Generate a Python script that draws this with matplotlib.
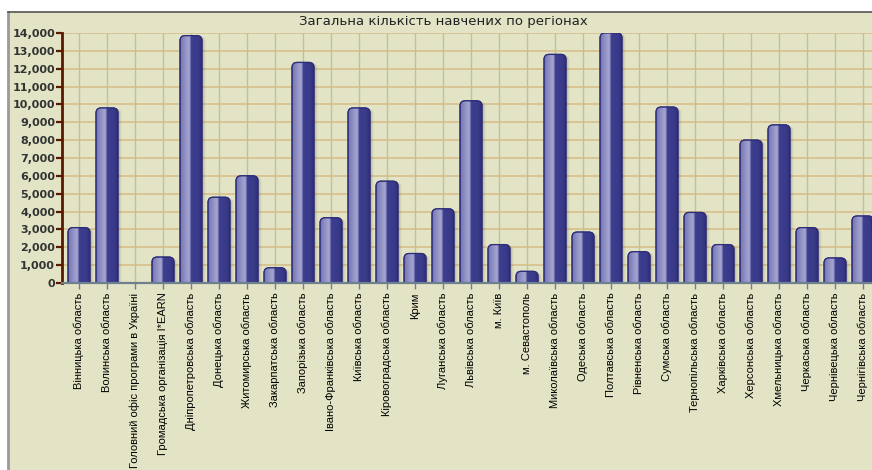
import matplotlib
matplotlib.use("Agg")
import matplotlib.pyplot as plt
import numpy as np
from matplotlib.patches import FancyBboxPatch, Rectangle
from matplotlib.colors import LinearSegmentedColormap

title = "Загальна кількість навчених по регіонах"
categories = [
    "Вінницька область", "Волинська область", "Головний офіс програми в Україні",
    "Громадська організація I*EARN", "Дніпропетровська область", "Донецька область",
    "Житомирська область", "Закарпатська область", "Запорізька область",
    "Івано-Франківська область", "Київська область", "Кіровоградська область",
    "Крим", "Луганська область", "Львівська область", "м. Київ",
    "м. Севастополь", "Миколаївська область", "Одеська область",
    "Полтавська область", "Рівненська область", "Сумська область",
    "Тернопільська область", "Харківська область", "Херсонська область",
    "Хмельницька область", "Черкаська область", "Чернівецька область",
    "Чернігівська область",
]
values = [3100, 9800, 0, 1450, 13850, 4800, 6000, 850, 12350, 3650, 9800, 5700,
          1650, 4150, 10200, 2150, 650, 12800, 2850, 14000, 1750, 9850, 3950,
          2150, 8000, 8850, 3100, 1400, 3750]
yticks = list(range(0, 14001, 1000))

W, H = 872, 470
fig = plt.figure(figsize=(W / 100, H / 100), dpi=100)
fig.patch.set_facecolor("white")

# panel background with borders
bg = Rectangle((8 / W, 0), 1 - 8 / W, 1 - 12 / H, transform=fig.transFigure,
               facecolor="#e3e3c5", edgecolor="none", zorder=-10)
fig.add_artist(bg)
fig.add_artist(plt.Line2D([8 / W, 8 / W], [0, 1 - 12 / H], transform=fig.transFigure,
                          color="#9a9a9a", lw=2.0, zorder=-9))
fig.add_artist(plt.Line2D([8 / W, 1], [1 - 12 / H, 1 - 12 / H], transform=fig.transFigure,
                          color="#555555", lw=1.2, zorder=-9))

ax_left, ax_right = 62 / W, 1.0
ax_bottom, ax_top = 1 - 283 / H, 1 - 33 / H
ax = fig.add_axes([ax_left, ax_bottom, ax_right - ax_left, ax_top - ax_bottom])
ax.set_facecolor("none")
ax.set_zorder(1)

x = np.arange(len(categories))
x0 = -(79 - 62) / 28
x1 = (872 - 79) / 28
ax.set_xlim(x0, x1)
ax.set_ylim(0, 14000)

# grid
for yv in yticks[1:]:
    ax.axhline(yv, color="#d5bb86", lw=1.1, zorder=1)
for xv in x:
    ax.axvline(xv, color="#bac890", lw=1.0, zorder=1)

bw = 0.78
px_x = 1 / 28.0          # data units per pixel in x
px_y = 14000 / 250.0     # data units per pixel in y
aspect = px_y / px_x
r = 5 * px_x

cmap = LinearSegmentedColormap.from_list(
    "barg",
    [(0.0, "#5a5aa0"), (0.06, "#7c7cb8"), (0.40, "#a6a6d0"), (0.47, "#8888c0"),
     (0.50, "#3e3e90"), (0.85, "#3a3a8a"), (1.0, "#2e2e7c")])
grad = np.linspace(0, 1, 200).reshape(1, -1)

for xi, v in zip(x, values):
    if v <= 0:
        continue
    left = xi - bw / 2
    # shadow
    for k, a in [(1, 0.10), (2, 0.08), (3, 0.06), (4, 0.04)]:
        sh = FancyBboxPatch((left + k * px_x, -600), bw, v + 600 - k * px_y * 0.3,
                            boxstyle=f"round,pad=0,rounding_size={r}",
                            mutation_aspect=aspect, facecolor="#303020",
                            edgecolor="none", alpha=a, zorder=2)
        ax.add_patch(sh)
    patch = FancyBboxPatch((left, -600), bw, v + 600,
                           boxstyle=f"round,pad=0,rounding_size={r}",
                           mutation_aspect=aspect, facecolor="#3c3c8e",
                           edgecolor="#2c2c78", lw=0.9, zorder=3)
    ax.add_patch(patch)
    im = ax.imshow(grad, cmap=cmap, aspect="auto", extent=(left, left + bw, -600, v),
                   zorder=3.5, interpolation="bilinear")
    im.set_clip_path(patch)
    edge = FancyBboxPatch((left, -600), bw, v + 600,
                          boxstyle=f"round,pad=0,rounding_size={r}",
                          mutation_aspect=aspect, facecolor="none",
                          edgecolor="#2c2c78", lw=0.9, zorder=4)
    ax.add_patch(edge)

ax.set_xlim(x0, x1)
ax.set_ylim(0, 14000)

# axes styling
for s in ["top", "right"]:
    ax.spines[s].set_visible(False)
ax.spines["left"].set_color("#5a1800")
ax.spines["left"].set_linewidth(2.0)
ax.spines["left"].set_zorder(6)
ax.spines["bottom"].set_color("#6e7f90")
ax.spines["bottom"].set_linewidth(1.6)
ax.spines["bottom"].set_zorder(6)

ax.set_yticks(yticks)
ax.set_yticklabels([f"{t:,}" for t in yticks], fontsize=8, fontweight="bold",
                   color="#333333", family="DejaVu Sans")
ax.tick_params(axis="y", length=4, width=1.6, color="#5a1800", pad=1)

ax.set_xticks(x)
ax.set_xticklabels(categories, rotation=90, fontsize=8, family="Liberation Sans",
                   color="#000000", va="top", ha="center")
ax.tick_params(axis="x", length=4, width=1.0, color="#6e7f90", pad=3)

fig.text(443 / W, 1 - 21 / H, title, ha="center", va="center", fontsize=9.5,
         color="#222222", family="DejaVu Sans")

fig.savefig("out.png", dpi=100)
